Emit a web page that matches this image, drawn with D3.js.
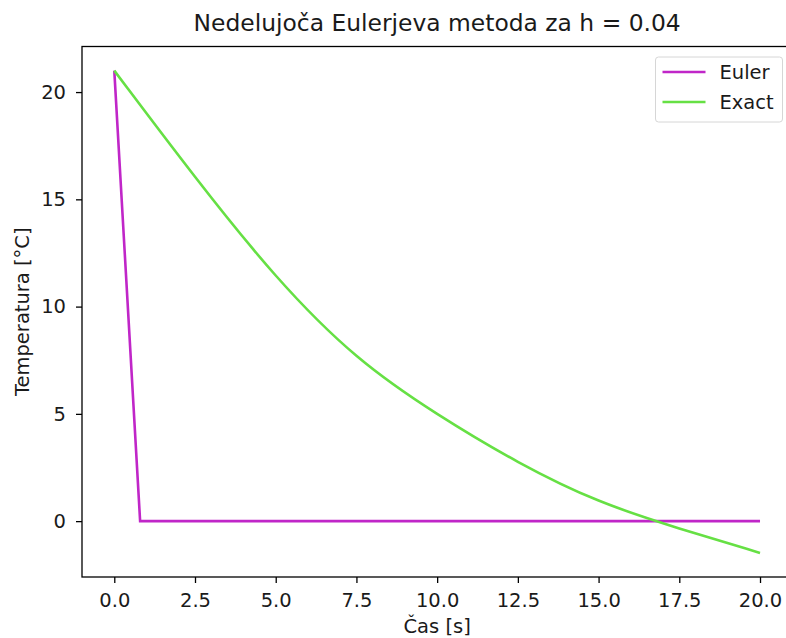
<!DOCTYPE html>
<html>
<head>
<meta charset="utf-8">
<script src="https://cdn.jsdelivr.net/npm/d3@7"></script>
<style>
	body { margin: 0; background: #fff; }
	svg { display: block; }
	text { font-family: "DejaVu Sans", sans-serif; fill: #1a1a1a; }
</style>
</head>
<body>
<svg id="chart" width="786" height="638"></svg>
<script>
// Euler: time [s] and temperature [°C]
var eulerTime = [0, 0.8, 20];
var eulerTemp = [21, 0, 0];

// exact solution
var exactTime = [0, 2.5, 5, 7.5, 10, 12.5, 15, 17.5, 20];
var exactTemp = [21, 16.0, 11.3, 7.5, 4.95, 2.7, 0.85, -0.35, -1.48];

var xTicks = [0, 2.5, 5, 7.5, 10, 12.5, 15, 17.5, 20];
var yTicks = [0, 5, 10, 15, 20];

var seriesNames = ["Euler", "Exact"];
var seriesColors = ["#c026c8", "#66e044"];

var titleText = "Nedelujoča Eulerjeva metoda za h = 0.04";
var xLabel = "Čas [s]";
var yLabel = "Temperatura [°C]";

var svg = d3.select("#chart");

// plot box (right spine falls just outside the picture)
var box = {left: 82, right: 792.3, top: 46.5, bottom: 577};

var x = d3.scaleLinear().domain([-1, 21]).range([box.left, box.right]);
var y = d3.scaleLinear().domain([-2.604, 22.124]).range([box.bottom, box.top]);

var tickFont = 19.5;
var titleFont = 23.4;

// lines
var pairs = function (xs, ys) {
	return xs.map(function (t, i) { return [t, ys[i]]; });
};

var line = d3.line()
	.x(function (d) { return x(d[0]); })
	.y(function (d) { return y(d[1]); });

var smoothLine = d3.line()
	.curve(d3.curveBasis)
	.x(function (d) { return x(d[0]); })
	.y(function (d) { return y(d[1]); });

svg.append("path")
	.datum(pairs(eulerTime, eulerTemp))
	.attr("d", line)
	.attr("fill", "none")
	.attr("stroke", seriesColors[0])
	.attr("stroke-width", 2.6);

svg.append("path")
	.datum(pairs(exactTime, exactTemp))
	.attr("d", smoothLine)
	.attr("fill", "none")
	.attr("stroke", seriesColors[1])
	.attr("stroke-width", 2.6);

// axes
var xAxis = d3.axisBottom(x)
	.tickValues(xTicks)
	.tickFormat(d3.format(".1f"))
	.tickSizeInner(6)
	.tickSizeOuter(0)
	.tickPadding(10);

var yAxis = d3.axisLeft(y)
	.tickValues(yTicks)
	.tickFormat(d3.format("d"))
	.tickSizeInner(6)
	.tickSizeOuter(0)
	.tickPadding(10);

var gx = svg.append("g")
	.attr("transform", "translate(0," + box.bottom + ")")
	.call(xAxis);

var gy = svg.append("g")
	.attr("transform", "translate(" + box.left + ",0)")
	.call(yAxis);

[gx, gy].forEach(function (g) {
	g.select(".domain").remove();
	g.selectAll(".tick line").attr("stroke", "#000").attr("stroke-width", 1.3);
	g.selectAll(".tick text")
		.attr("font-size", tickFont + "px")
		.attr("font-family", "DejaVu Sans")
		.attr("fill", "#1a1a1a");
});

// frame
svg.append("rect")
	.attr("x", box.left)
	.attr("y", box.top)
	.attr("width", box.right - box.left)
	.attr("height", box.bottom - box.top)
	.attr("fill", "none")
	.attr("stroke", "#000")
	.attr("stroke-width", 1.3);

// title and axis labels
svg.append("text")
	.attr("x", (box.left + box.right) / 2)
	.attr("y", 31)
	.attr("text-anchor", "middle")
	.attr("font-size", titleFont + "px")
	.text(titleText);

svg.append("text")
	.attr("x", (box.left + box.right) / 2)
	.attr("y", 633)
	.attr("text-anchor", "middle")
	.attr("font-size", tickFont + "px")
	.text(xLabel);

svg.append("text")
	.attr("transform", "translate(29," + ((box.top + box.bottom) / 2) + ") rotate(-90)")
	.attr("text-anchor", "middle")
	.attr("font-size", tickFont + "px")
	.text(yLabel);

// legend
var gLegend = svg.append("g").attr("transform", "translate(655.5,57)");

gLegend.append("rect")
	.attr("width", 127)
	.attr("height", 65)
	.attr("rx", 3)
	.attr("fill", "#fff")
	.attr("fill-opacity", 0.8)
	.attr("stroke", "#d6d6d6")
	.attr("stroke-width", 1);

seriesNames.forEach(function (name, i) {
	var rowY = 15 + i * 30;
	gLegend.append("line")
		.attr("x1", 7)
		.attr("x2", 50)
		.attr("y1", rowY)
		.attr("y2", rowY)
		.attr("stroke", seriesColors[i])
		.attr("stroke-width", 2.6);
	gLegend.append("text")
		.attr("x", 64)
		.attr("y", rowY + 7)
		.attr("font-size", tickFont + "px")
		.text(name);
});
</script>
</body>
</html>
